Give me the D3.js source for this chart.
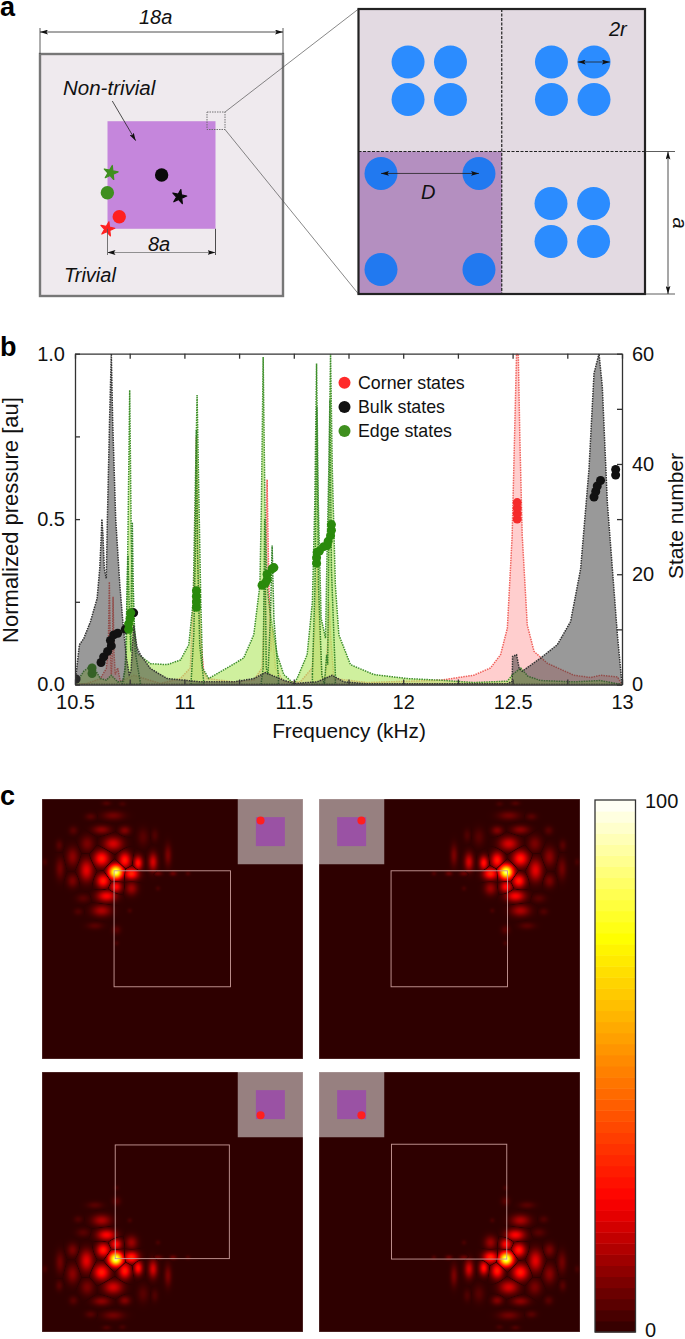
<!DOCTYPE html>
<html>
<head>
<meta charset="utf-8">
<script src="https://cdn.jsdelivr.net/npm/d3@7"></script>
<style>
  html, body { margin: 0; padding: 0; background: #fff; }
  svg { display: block; font-family: "Liberation Sans", Arial, sans-serif; }
  .dotted { stroke-dasharray: 1.5 1; stroke-width: 1.5; }
  .axis path, .axis line { stroke: #333; stroke-width: 1.3; }
  .axis text { font-size: 20px; fill: #111; font-family: "Liberation Sans", Arial, sans-serif; }
</style>
</head>
<body>
<svg id="fig" width="685" height="1339"></svg>
<script>
// Panel b spectra, frequency in kHz against normalized pressure.
const edgeFreq = [10.5, 10.54, 10.578, 10.616, 10.643, 10.666, 10.695, 10.723, 10.735, 10.742, 10.75, 10.757, 10.765, 10.784, 10.845, 10.921, 10.982, 11.02, 11.04, 11.047, 11.058, 11.068, 11.075, 11.083, 11.111, 11.195, 11.271, 11.317, 11.345, 11.352, 11.36, 11.368, 11.378, 11.393, 11.424, 11.454, 11.5, 11.515, 11.561, 11.585, 11.596, 11.604, 11.612, 11.625, 11.645, 11.652, 11.66, 11.668, 11.676, 11.69, 11.706, 11.759, 11.866, 12.018, 12.17, 12.323, 12.476, 12.5, 12.537, 12.57, 12.628, 12.78, 12.9, 13];
const edgeP = [0, 0.04, 0.06, 0.018, 0.013, 0.028, 0.008, 0.01, 0.1, 0.45, 0.89, 0.45, 0.2, 0.094, 0.063, 0.06, 0.074, 0.12, 0.25, 0.5, 0.875, 0.5, 0.25, 0.05, 0.018, 0.05, 0.08, 0.15, 0.3, 0.55, 0.99, 0.55, 0.3, 0.21, 0.09, 0.03, 0.003, 0.018, 0.09, 0.25, 0.55, 0.97, 0.55, 0.2, 0.14, 0.4, 0.65, 1, 0.65, 0.3, 0.15, 0.06, 0.03, 0.018, 0.013, 0.006, 0.01, 0.03, 0.05, 0.025, 0.012, 0.008, 0.012, 0];

const edgeSpikeFreqA = [10.715, 10.73, 10.737, 10.742, 10.747, 10.755, 10.758, 10.762, 10.766, 10.775, 10.8];
const edgeSpikePA = [0, 0.05, 0.25, 0.39, 0.25, 0.1, 0.3, 0.49, 0.3, 0.1, 0];
const edgeSpikeFreqB = [11.03, 11.043, 11.05, 11.055, 11.06, 11.07, 11.09];
const edgeSpikePB = [0, 0.15, 0.4, 0.77, 0.4, 0.12, 0];
const edgeSpikeFreqC = [11.35, 11.36, 11.367, 11.374, 11.382, 11.393, 11.401, 11.409, 11.43];
const edgeSpikePC = [0, 0.05, 0.5, 0.05, 0.03, 0.2, 0.42, 0.2, 0.02];
const edgeSpikeFreqD = [11.585, 11.597, 11.605, 11.613, 11.628, 11.64, 11.65, 11.655, 11.659, 11.665, 11.672, 11.69];
const edgeSpikePD = [0.03, 0.3, 0.84, 0.3, 0.03, 0, 0.09, 0.06, 0.35, 0.86, 0.35, 0.03];

const cornerFreq = [10.5, 10.555, 10.616, 10.643, 10.652, 10.657, 10.662, 10.666, 10.671, 10.674, 10.678, 10.684, 10.695, 10.707, 10.738, 10.768, 10.89, 10.982, 11.027, 11.047, 11.055, 11.063, 11.073, 11.088, 11.104, 11.226, 11.317, 11.355, 11.37, 11.378, 11.386, 11.396, 11.402, 11.416, 11.454, 11.53, 11.584, 11.599, 11.607, 11.614, 11.63, 11.645, 11.657, 11.662, 11.668, 11.683, 11.835, 12.171, 12.323, 12.399, 12.445, 12.476, 12.498, 12.509, 12.518, 12.526, 12.533, 12.544, 12.567, 12.598, 12.659, 12.78, 12.857, 12.902, 12.979, 13];
const cornerP = [0, 0.003, 0.018, 0.048, 0.1, 0.31, 0.1, 0.03, 0.1, 0.265, 0.1, 0.03, 0.05, 0.01, 0.018, 0.028, 0.003, 0.018, 0.05, 0.35, 0.75, 0.35, 0.15, 0.04, 0.018, 0.008, 0.013, 0.05, 0.3, 0.62, 0.3, 0.1, 0.17, 0.05, 0.008, 0.008, 0.05, 0.2, 0.37, 0.2, 0.018, 0.028, 0.15, 0.25, 0.15, 0.018, 0.006, 0.013, 0.028, 0.05, 0.09, 0.17, 0.45, 0.75, 1, 1, 0.75, 0.45, 0.18, 0.1, 0.064, 0.028, 0.021, 0.028, 0.023, 0];

const bulkFreq = [10.5, 10.52, 10.54, 10.57, 10.601, 10.613, 10.62, 10.623, 10.628, 10.634, 10.643, 10.648, 10.658, 10.666, 10.672, 10.686, 10.705, 10.72, 10.735, 10.748, 10.756, 10.768, 10.784, 10.799, 10.845, 10.921, 11.073, 11.226, 11.317, 11.37, 11.454, 11.5, 11.607, 11.675, 11.729, 11.835, 12.476, 12.498, 12.5, 12.518, 12.53, 12.544, 12.628, 12.704, 12.765, 12.811, 12.849, 12.872, 12.895, 12.91, 12.933, 12.956, 12.979, 13];
const bulkP = [0, 0.12, 0.139, 0.189, 0.26, 0.35, 0.45, 0.5, 0.45, 0.35, 0.32, 0.5, 0.8, 1, 0.8, 0.5, 0.3, 0.18, 0.08, 0.03, 0.04, 0.18, 0.11, 0.09, 0.048, 0.018, 0.008, 0.008, 0.018, 0.036, 0.013, 0.003, 0.008, 0.028, 0.008, 0.002, 0.002, 0.01, 0.085, 0.09, 0.05, 0.04, 0.08, 0.12, 0.19, 0.35, 0.65, 0.94, 1, 0.9, 0.55, 0.35, 0.15, 0];

// Panel b eigenstates, frequency against state number.
const mutedEdgeFreq = [10.578, 10.578];
const mutedEdgeState = [2, 3];
const mutedBulkFreq = [10.505];
const mutedBulkState = [1];
const bulkStateFreq = [10.619, 10.631, 10.649, 10.666, 10.662, 10.677, 10.695, 10.73, 10.768, 12.872, 12.88, 12.887, 12.902, 12.971, 12.971];
const bulkState = [4, 5, 6, 7, 8, 9, 9.3, 10, 13, 34, 35, 36, 37, 38, 39];
const edgeStateFreq = [10.745, 10.745, 10.752, 10.755, 11.055, 11.055, 11.055, 11.055, 11.355, 11.37, 11.378, 11.378, 11.401, 11.409, 11.604, 11.604, 11.607, 11.617, 11.637, 11.652, 11.657, 11.668, 11.672, 11.672];
const edgeState = [10, 11, 12, 13, 14, 15, 16, 17, 18, 18.4, 19, 20, 21, 21.2, 22, 23, 24, 24.2, 25, 25.2, 26, 27, 28, 29];
const cornerStateFreq = [12.521, 12.521, 12.521, 12.521];
const cornerState = [30, 31, 32, 33];

const legendLabels = ['Corner states', 'Bulk states', 'Edge states'];
const freqTicks = [10.5, 10.75, 11, 11.25, 11.5, 11.75, 12, 12.25, 12.5, 12.75, 13];
const pressureTicks = [0, 0.25, 0.5, 0.75, 1];
const stateTicks = [0, 10, 20, 30, 40, 50, 60];

// Panel c: standing-wave lobes around the top left corner, in lattice constants a.
const lobeU = [5.09, 6.17, 5.71, 6.63, 7.66, 8.69, 8.0, 9.04, 10.07, 4.11, 4.91, 4.11, 5.71, 4.91, 3.35, 4.45, 5.55, 3.12, 2.16, 3.07, 2.11, 2.11, 1.24, 1.19, 0.2, 4.22, 5.09, 6.17, 4.45, 4.11, 2.84, 2.5, 3.65, 5.14, 5.14, 6.97, 7.78, 6.05, 8.0];
const lobeV = [5.05, 5.16, 4.24, 4.43, 4.36, 3.9, 5.16, 5.16, 5.16, 4.13, 3.1, 2.13, 2.18, 1.15, 1.22, 0.3, 0.34, 3.1, 2.18, 4.93, 4.01, 5.67, 4.82, 3.21, 4.36, 5.67, 6.08, 6.19, 6.72, 7.73, 6.88, 7.8, 8.78, 9.06, 9.98, 2.64, 2.52, 7.73, 6.19];
const lobeAmp = [88, 32, 30, 28, 20, 9, 7, 7, 4, 30, 20, 11, 10, 8, 5, 4, 3, 9, 5, 22, 11, 9, 8, 5, 3, 30, 26, 13, 25, 15, 5, 4, 5, 5, 3, 5, 4, 3, 3];
const lobeSu = [0.33, 0.35, 0.29, 0.21, 0.21, 0.17, 0.21, 0.17, 0.12, 0.38, 0.45, 0.42, 0.27, 0.51, 0.26, 0.21, 0.17, 0.32, 0.21, 0.32, 0.29, 0.26, 0.21, 0.17, 0.12, 0.32, 0.29, 0.29, 0.45, 0.45, 0.32, 0.21, 0.38, 0.21, 0.12, 0.26, 0.17, 0.12, 0.12];
const lobeSv = [0.33, 0.29, 0.38, 0.33, 0.42, 0.51, 0.12, 0.12, 0.11, 0.38, 0.33, 0.21, 0.21, 0.21, 0.17, 0.12, 0.12, 0.38, 0.21, 0.51, 0.45, 0.32, 0.51, 0.26, 0.17, 0.33, 0.27, 0.32, 0.27, 0.27, 0.21, 0.17, 0.17, 0.21, 0.12, 0.42, 0.3, 0.12, 0.12];

const colorStops = [0, 25, 49, 74, 100];
const colorRange = ['#2e0000', '#ff0000', '#ff8000', '#ffff00', '#ffffff'];
const colorbarBands = d3.range(0, 100, 100 / 48);

// Panel a, lattice constants a.
const sampleCircles = [[9.01, 9.0, '#0a0a0a'], [4.99, 10.32, '#3f8f1f'], [5.87, 12.1, '#ff2020']];
const sampleStars = [[10.32, 10.62, '#0a0a0a'], [5.24, 8.83, '#3f8f1f'], [4.99, 13.02, '#ff2020']];
const cellHoles = [
  [0.346, 0.372], [0.642, 0.372], [0.346, 0.635], [0.642, 0.635],
  [1.347, 0.372], [1.644, 0.372], [1.347, 0.635], [1.644, 0.635],
  [1.344, 1.365], [1.641, 1.365], [1.344, 1.632], [1.641, 1.632],
  [0.157, 1.154], [0.841, 1.154], [0.157, 1.828], [0.841, 1.828],
];

const svg = d3.select('#fig');

function addText(parent, x, y, str, size, opts = {}) {
  return parent.append('text')
    .attr('x', x).attr('y', y)
    .attr('font-size', size)
    .attr('font-style', opts.italic ? 'italic' : null)
    .attr('font-weight', opts.bold ? 'bold' : null)
    .attr('text-anchor', opts.anchor || 'start')
    .attr('transform', opts.rotate ? `rotate(${opts.rotate},${x},${y})` : null)
    .attr('fill', opts.fill || '#111')
    .text(str);
}

const defs = svg.append('defs');
function addArrowhead(id, color) {
  defs.append('marker')
    .attr('id', id).attr('viewBox', '0 0 10 6')
    .attr('refX', 10).attr('refY', 3)
    .attr('markerWidth', 8).attr('markerHeight', 5)
    .attr('markerUnits', 'userSpaceOnUse')
    .attr('orient', 'auto-start-reverse')
    .append('path').attr('d', 'M0,0L10,3L0,6L2,3Z').attr('fill', color);
}
addArrowhead('tip', '#111');

function dimLine(parent, x1, y1, x2, y2, both = true, color = '#222', width = 0.8) {
  parent.append('line')
    .attr('x1', x1).attr('y1', y1).attr('x2', x2).attr('y2', y2)
    .attr('stroke', color).attr('stroke-width', width)
    .attr('marker-end', 'url(#tip)')
    .attr('marker-start', both ? 'url(#tip)' : null);
}

function plainLine(parent, x1, y1, x2, y2, color = '#333', width = 0.8) {
  parent.append('line')
    .attr('x1', x1).attr('y1', y1).attr('x2', x2).attr('y2', y2)
    .attr('stroke', color).attr('stroke-width', width);
}

function drawPanelA() {
  const g = svg.append('g');
  const xA = d3.scaleLinear().domain([0, 18]).range([40, 283]);
  const yA = d3.scaleLinear().domain([0, 18]).range([54, 296]);

  g.append('rect')
    .attr('x', xA(0)).attr('y', yA(0))
    .attr('width', xA(18) - xA(0)).attr('height', yA(18) - yA(0))
    .attr('fill', '#efeaee').attr('stroke', '#777').attr('stroke-width', 2.4);
  g.append('rect')
    .attr('x', xA(5)).attr('y', yA(5))
    .attr('width', xA(13) - xA(5)).attr('height', yA(13) - yA(5))
    .attr('fill', '#c586dc');

  g.selectAll('.sample-dot').data(sampleCircles).join('circle')
    .attr('cx', d => xA(d[0])).attr('cy', d => yA(d[1]))
    .attr('r', 6.7).attr('fill', d => d[2]);
  g.selectAll('.sample-star').data(sampleStars).join('path')
    .attr('d', d3.symbol().type(d3.symbolStar).size(62))
    .attr('transform', d => `translate(${xA(d[0])},${yA(d[1])}) rotate(12)`)
    .attr('fill', d => d[2])
    .attr('stroke', d => d[2]).attr('stroke-width', 1.2).attr('stroke-linejoin', 'round');

  // 18a and 8a dimensions
  plainLine(g, xA(0), 28, xA(0), 54);
  plainLine(g, xA(18), 28, xA(18), 54);
  dimLine(g, xA(0), 32, xA(18), 32);
  plainLine(g, xA(5), yA(13), xA(5), 255, '#555');
  plainLine(g, xA(13), yA(13), xA(13), 255, '#222');
  dimLine(g, xA(5), 252.5, xA(13), 252.5, true, '#777');
  dimLine(g, 112.3, 101, 135.7, 140.7, false);

  addText(g, 139, 24, '18a', 20, { italic: true });
  addText(g, 63, 95, 'Non-trivial', 20.5, { italic: true });
  addText(g, 148, 251, '8a', 20, { italic: true });
  addText(g, 64, 282, 'Trivial', 20, { italic: true });

  // zoom window and its guide lines
  g.append('rect')
    .attr('x', 207).attr('y', 112).attr('width', 18).attr('height', 17.5)
    .attr('fill', 'none').attr('stroke', '#666').attr('stroke-width', 0.9)
    .attr('stroke-dasharray', '1.5 1');
  plainLine(g, 225, 112, 358.5, 9, '#555', 0.7);
  plainLine(g, 225, 129.5, 358.5, 294, '#555', 0.7);

  // enlarged unit cells
  const xC = d3.scaleLinear().domain([0, 2]).range([358.5, 645]);
  const yC = d3.scaleLinear().domain([0, 2]).range([9, 294]);
  g.append('rect')
    .attr('x', xC(0)).attr('y', yC(0))
    .attr('width', xC(2) - xC(0)).attr('height', yC(2) - yC(0))
    .attr('fill', '#e3dae2');
  g.append('rect')
    .attr('x', xC(0)).attr('y', yC(1))
    .attr('width', xC(1) - xC(0)).attr('height', yC(2) - yC(1))
    .attr('fill', '#b48fc0');
  g.selectAll('.hole').data(cellHoles).join('circle')
    .attr('cx', d => xC(d[0])).attr('cy', d => yC(d[1]))
    .attr('r', 16.5)
    .attr('fill', d => (d[0] < 1 && d[1] > 1 ? '#2179f0' : '#2b8cff'));
  g.append('line')
    .attr('x1', xC(1)).attr('x2', xC(1)).attr('y1', yC(0)).attr('y2', yC(2))
    .attr('stroke', '#222').attr('stroke-width', 1.2).attr('stroke-dasharray', '3 1.5');
  g.append('line')
    .attr('x1', xC(0)).attr('x2', xC(2)).attr('y1', yC(1)).attr('y2', yC(1))
    .attr('stroke', '#222').attr('stroke-width', 1.2).attr('stroke-dasharray', '3 1.5');
  g.append('rect')
    .attr('x', xC(0)).attr('y', yC(0))
    .attr('width', xC(2) - xC(0)).attr('height', yC(2) - yC(0))
    .attr('fill', 'none').attr('stroke', '#222').attr('stroke-width', 2.2);

  dimLine(g, xC(1.53), yC(0.372), xC(1.755), yC(0.372));
  dimLine(g, xC(0.157), yC(1.154), xC(0.841), yC(1.154));
  plainLine(g, xC(2), yC(1), 675, yC(1));
  plainLine(g, xC(2), yC(2), 675, yC(2));
  dimLine(g, 668, yC(1), 668, yC(2));

  addText(g, 609, 36, '2r', 20, { italic: true });
  addText(g, 421, 199, 'D', 20, { italic: true });
  addText(g, 673, 223, 'a', 20, { italic: true, rotate: 90, anchor: 'middle' });
  addText(g, 0, 16, 'a', 27, { bold: true, fill: '#000' });
}

function drawPanelB() {
  const left = 75, right = 622, top = 353.7, bottom = 684.5;
  const g = svg.append('g');
  const xScale = d3.scaleLinear().domain([10.5, 13]).range([left, right]);
  const yScale = d3.scaleLinear().domain([0, 1]).range([bottom, top]);
  const stateScale = d3.scaleLinear().domain([0, 60]).range([bottom, top]);

  defs.append('clipPath').attr('id', 'plot-clip').append('rect')
    .attr('x', left).attr('y', top).attr('width', right - left).attr('height', bottom - top);

  const area = d3.area().x(d => xScale(d[0])).y0(yScale(0)).y1(d => yScale(d[1]));
  const plot = g.append('g').attr('clip-path', 'url(#plot-clip)');

  function drawSpectrum(freq, p, fill, opacity, stroke) {
    plot.append('path')
      .datum(d3.zip(freq, p))
      .attr('class', 'dotted')
      .attr('d', area)
      .attr('fill', fill).attr('fill-opacity', opacity)
      .attr('stroke', stroke);
  }

  function drawStates(parent, freq, state, color, r = 4.5) {
    parent.selectAll(null).data(d3.zip(freq, state)).join('circle')
      .attr('cx', d => xScale(d[0])).attr('cy', d => stateScale(d[1]))
      .attr('r', r).attr('fill', color);
  }

  drawSpectrum(cornerFreq, cornerP, '#ff8a8a', 0.42, '#f0605a');
  drawSpectrum(edgeFreq, edgeP, '#b5e86a', 0.65, '#3f8f2c');
  drawSpectrum(edgeSpikeFreqA, edgeSpikePA, '#b5e86a', 0.4, '#2f7f26');
  drawSpectrum(edgeSpikeFreqB, edgeSpikePB, '#b5e86a', 0.4, '#2f7f26');
  drawSpectrum(edgeSpikeFreqC, edgeSpikePC, '#b5e86a', 0.4, '#2f7f26');
  drawSpectrum(edgeSpikeFreqD, edgeSpikePD, '#b5e86a', 0.4, '#2f7f26');
  drawStates(plot, mutedEdgeFreq, mutedEdgeState, '#2f8a10');
  drawStates(plot, mutedBulkFreq, mutedBulkState, '#111');
  drawSpectrum(bulkFreq, bulkP, '#3c3c3c', 0.52, '#333');

  const xBottom = d3.axisBottom(xScale).tickValues(freqTicks).tickSizeInner(-5).tickSizeOuter(0)
    .tickPadding(10).tickFormat(d => (d * 2 % 1 === 0 ? d3.format('~g')(d) : ''));
  const xTop = d3.axisTop(xScale).tickValues(freqTicks).tickSizeInner(-5).tickSizeOuter(0).tickFormat('');
  const yLeft = d3.axisLeft(yScale).tickValues(pressureTicks).tickSizeInner(-5).tickSizeOuter(0)
    .tickPadding(10).tickFormat(d => (d * 2 % 1 === 0 ? d3.format('.1f')(d) : ''));
  const yRight = d3.axisRight(stateScale).tickValues(stateTicks).tickSizeInner(-5).tickSizeOuter(0)
    .tickPadding(10).tickFormat(d => (d % 20 === 0 ? d : ''));

  g.append('g').attr('class', 'axis').attr('transform', `translate(0,${bottom})`).call(xBottom);
  g.append('g').attr('class', 'axis').attr('transform', `translate(0,${top})`).call(xTop);
  g.append('g').attr('class', 'axis').attr('transform', `translate(${left},0)`).call(yLeft);
  g.append('g').attr('class', 'axis').attr('transform', `translate(${right},0)`).call(yRight);

  drawStates(g, bulkStateFreq, bulkState, '#111');
  drawStates(g, edgeStateFreq, edgeState, '#2a8a0c');
  drawStates(g, cornerStateFreq, cornerState, '#f52b2b');

  const legendColors = ['#ff2a2a', '#111', '#3f8f1f'];
  legendLabels.forEach((label, i) => {
    g.append('circle')
      .attr('cx', 344.5).attr('cy', 382.7 + i * 24.2)
      .attr('r', 6).attr('fill', legendColors[i]);
    addText(g, 358, 388.7 + i * 24.2, label, 17.8);
  });

  addText(g, 349, 738, 'Frequency (kHz)', 20.8, { anchor: 'middle' });
  addText(g, 18, 520, 'Normalized pressure [au]', 22, { anchor: 'middle', rotate: -90 });
  addText(g, 683, 516, 'State number', 21, { anchor: 'middle', rotate: -90 });
  addText(g, 0, 356, 'b', 27, { bold: true, fill: '#000' });
}

function drawPanelC() {
  const g = svg.append('g');
  const color = d3.scaleLinear().domain(colorStops).range(colorRange);
  const lobes = d3.zip(lobeU, lobeV, lobeAmp, lobeSu, lobeSv);

  const mapSize = { width: 261, height: 260 };
  const panels = [
    { x: 42, y: 799, flipX: false, flipY: false, inner: [4.97, 13] },
    { x: 319, y: 799, flipX: true, flipY: false, inner: [4.97, 13] },
    { x: 42, y: 1072, flipX: false, flipY: true, inner: [5.05, 12.92] },
    { x: 319, y: 1072, flipX: true, flipY: true, inner: [5.0, 12.95] },
  ];

  panels.forEach(panel => {
    const xMap = d3.scaleLinear().domain([0, 18]).range([0, mapSize.width]);
    const yMap = d3.scaleLinear().domain([0, 18]).range([0, mapSize.height]);

    const canvas = document.createElement('canvas');
    canvas.width = mapSize.width;
    canvas.height = mapSize.height;
    const ctx = canvas.getContext('2d');
    const image = ctx.createImageData(mapSize.width, mapSize.height);

    for (let py = 0; py < mapSize.height; py++) {
      for (let px = 0; px < mapSize.width; px++) {
        let u = xMap.invert(px + 0.5);
        let v = yMap.invert(py + 0.5);
        if (panel.flipX) u = 18 - u;
        if (panel.flipY) v = 18 - v;
        let first = 0, second = 0;
        for (const [lu, lv, amp, su, sv] of lobes) {
          const du = (u - lu) / su;
          const dv = (v - lv) / sv;
          const r2 = du * du + dv * dv;
          if (r2 >= 16) continue;
          const h = amp * Math.exp(-r2 / 2);
          if (h > first) { second = first; first = h; } else if (h > second) second = h;
        }
        // nodal lines run where two neighbouring lobes meet
        const gap = first > 0 ? (first - second) / (0.22 * first) : 0;
        const value = first * (1 - 0.95 * Math.exp(-gap * gap));
        const c = d3.rgb(color(value));
        const i = (py * mapSize.width + px) * 4;
        image.data[i] = c.r;
        image.data[i + 1] = c.g;
        image.data[i + 2] = c.b;
        image.data[i + 3] = 255;
      }
    }
    ctx.putImageData(image, 0, 0);

    const cell = g.append('g').attr('transform', `translate(${panel.x},${panel.y})`);
    cell.append('image')
      .attr('width', mapSize.width).attr('height', mapSize.height)
      .attr('href', canvas.toDataURL());

    const [i0, i1] = panel.inner;
    cell.append('rect')
      .attr('x', xMap(i0)).attr('y', yMap(i0))
      .attr('width', xMap(i1) - xMap(i0)).attr('height', yMap(i1) - yMap(i0))
      .attr('fill', 'none').attr('stroke', '#c89a98').attr('stroke-width', 0.9);
    cell.append('rect')
      .attr('width', mapSize.width).attr('height', mapSize.height)
      .attr('fill', 'none').attr('stroke', '#fff').attr('stroke-opacity', 0.25);

    // little sample thumbnail with the excited corner
    const thumbSize = xMap(4.5);
    const thumbX = panel.flipX ? 0 : mapSize.width - thumbSize;
    const thumb = d3.scaleLinear().domain([0, 18]).range([0, thumbSize]);
    const thumbG = cell.append('g').attr('transform', `translate(${thumbX},0)`);
    thumbG.append('rect')
      .attr('width', thumbSize).attr('height', thumbSize)
      .attr('fill', '#fff').attr('fill-opacity', 0.5);
    thumbG.append('rect')
      .attr('x', thumb(5)).attr('y', thumb(5))
      .attr('width', thumb(8)).attr('height', thumb(8))
      .attr('fill', '#9a52a4');
    thumbG.append('circle')
      .attr('cx', thumb(panel.flipX ? 11.7 : 6.3))
      .attr('cy', thumb(panel.flipY ? 11.9 : 5.9))
      .attr('r', 4).attr('fill', '#ff1f1f');
  });

  // colorbar
  const barScale = d3.scaleLinear().domain([0, 100]).range([1332, 800]);
  const bandHeight = barScale(0) - barScale(100 / 48);
  g.selectAll('.bar-band').data(colorbarBands).join('rect')
    .attr('x', 595).attr('width', 40.5)
    .attr('y', d => barScale(d) - bandHeight)
    .attr('height', bandHeight + 0.5)
    .attr('fill', d => color(d + 50 / 48));
  g.append('rect')
    .attr('x', 595).attr('y', barScale(100))
    .attr('width', 40.5).attr('height', barScale(0) - barScale(100))
    .attr('fill', 'none').attr('stroke', '#333').attr('stroke-width', 1.3);

  addText(g, 645, 808, '100', 20);
  addText(g, 645, 1337, '0', 20);
  addText(g, 0, 805, 'c', 27, { bold: true, fill: '#000' });
}

drawPanelA();
drawPanelB();
drawPanelC();
</script>
</body>
</html>
